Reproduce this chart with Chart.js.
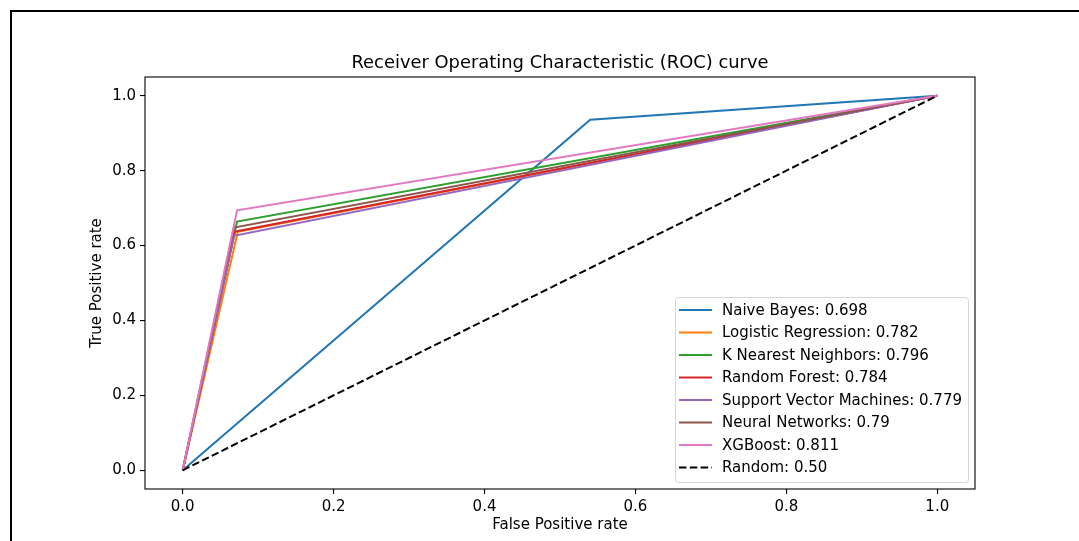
<!DOCTYPE html>
<html>
<head>
<meta charset="utf-8">
<script src="https://cdn.jsdelivr.net/npm/chart.js@4.4.0/dist/chart.umd.min.js"></script>
<style>
  html, body { margin: 0; padding: 0; background: #fff; }
  #roc { display: block; }
</style>
</head>
<body>
<canvas id="roc" width="1079" height="541"></canvas>
<script>
// данные ROC: одна точка перегиба на модель
const modelNames = ['Naive Bayes', 'Logistic Regression', 'K Nearest Neighbors', 'Random Forest',
    'Support Vector Machines', 'Neural Networks', 'XGBoost'];
const aucLabels = ['0.698', '0.782', '0.796', '0.784', '0.779', '0.79', '0.811'];
const kneeFpr = [0.540, 0.073, 0.072, 0.069, 0.068, 0.068, 0.072];
const kneeTpr = [0.936, 0.637, 0.664, 0.637, 0.626, 0.648, 0.694];
const randomX = [0, 1];
const randomY = [0, 1];
const tickValues = [0.0, 0.2, 0.4, 0.6, 0.8, 1.0];
const colors = ['#1f77b4', '#ff7f0e', '#2ca02c', '#d62728', '#9467bd', '#8c564b', '#e377c2'];

const FONT = '"DejaVu Sans", sans-serif';

const datasets = modelNames.map((name, i) => ({
    label: name + ': ' + aucLabels[i],
    data: [{x: 0, y: 0}, {x: kneeFpr[i], y: kneeTpr[i]}, {x: 1, y: 1}],
    borderColor: colors[i],
    borderWidth: 2,
    order: 20 - i
}));
datasets.push({
    label: 'Random: 0.50',
    data: randomX.map((x, i) => ({x: x, y: randomY[i]})),
    borderColor: '#000000',
    borderWidth: 2,
    borderDash: [7.5, 3.3],
    order: 0
});

//рамка, заголовок, подписи осей и легенда
const decor = {
    id: 'decor',
    beforeDraw(chart) {
        const ctx = chart.ctx;
        ctx.save();
        ctx.fillStyle = '#fff';
        ctx.fillRect(0, 0, chart.width, chart.height);
        ctx.strokeStyle = '#000';
        ctx.lineWidth = 2;
        ctx.strokeRect(11, 11, 1200, 800);
        ctx.restore();
    },
    afterDraw(chart) {
        const ctx = chart.ctx;
        const a = chart.chartArea;
        ctx.save();
        // рамка осей
        ctx.strokeStyle = '#000';
        ctx.lineWidth = 1.1;
        ctx.strokeRect(a.left, a.top, a.right - a.left, a.bottom - a.top);

        ctx.fillStyle = '#000';
        ctx.textAlign = 'center';
        ctx.textBaseline = 'alphabetic';
        ctx.font = '17.9px ' + FONT;
        ctx.fillText('Receiver Operating Characteristic (ROC) curve', (a.left + a.right) / 2, 68);

        ctx.font = '15px ' + FONT;
        ctx.textBaseline = 'middle';
        ctx.fillText('False Positive rate', (a.left + a.right) / 2, 525);
        ctx.translate(97, (a.top + a.bottom) / 2);
        ctx.rotate(-Math.PI / 2);
        ctx.fillText('True Positive rate', 0, 0);
        ctx.restore();

        // легенда
        ctx.save();
        const bx = 675.5, by = 297.5, bw = 293, bh = 185;
        ctx.beginPath();
        ctx.roundRect(bx, by, bw, bh, 3);
        ctx.fillStyle = 'rgba(255,255,255,0.8)';
        ctx.fill();
        ctx.strokeStyle = '#d6d6d6';
        ctx.lineWidth = 1;
        ctx.stroke();
        ctx.font = '15px ' + FONT;
        ctx.textAlign = 'left';
        ctx.textBaseline = 'middle';
        chart.data.datasets.forEach((ds, i) => {
            const y = 310 + i * 22.5;
            ctx.beginPath();
            ctx.strokeStyle = ds.borderColor;
            ctx.lineWidth = 2;
            ctx.setLineDash(ds.borderDash || []);
            ctx.moveTo(679, y);
            ctx.lineTo(712, y);
            ctx.stroke();
            ctx.setLineDash([]);
            ctx.fillStyle = '#000';
            ctx.fillText(ds.label, 722, y + 1);
        });
        ctx.restore();
    }
};

const axisCommon = {
    type: 'linear',
    min: -0.05,
    max: 1.05,
    afterBuildTicks: (scale) => { scale.ticks = tickValues.map(v => ({value: v})); },
    grid: {
        drawOnChartArea: false,
        drawTicks: true,
        tickLength: 5,
        color: '#000',
        lineWidth: 1.1
    },
    border: { display: false },
    ticks: {
        color: '#000',
        font: { family: FONT, size: 15 },
        padding: 4,
        callback: (v) => Number(v).toFixed(1)
    }
};

const config = {
    type: 'line',
    data: { datasets: datasets },
    options: {
        responsive: false,
        animation: false,
        devicePixelRatio: 1,
        parsing: true,
        elements: { point: { radius: 0 }, line: { tension: 0 } },
        layout: { padding: { top: 77, right: 104, left: 0, bottom: 0 } },
        plugins: { legend: { display: false }, tooltip: { enabled: false } },
        scales: {
            x: Object.assign({}, axisCommon, {
                afterFit: (scale) => { scale.height = 52; }
            }),
            y: Object.assign({}, axisCommon, {
                afterFit: (scale) => { scale.width = 145; }
            })
        }
    },
    plugins: [decor]
};

const myChart = new Chart(document.getElementById('roc'), config);
</script>
</body>
</html>
